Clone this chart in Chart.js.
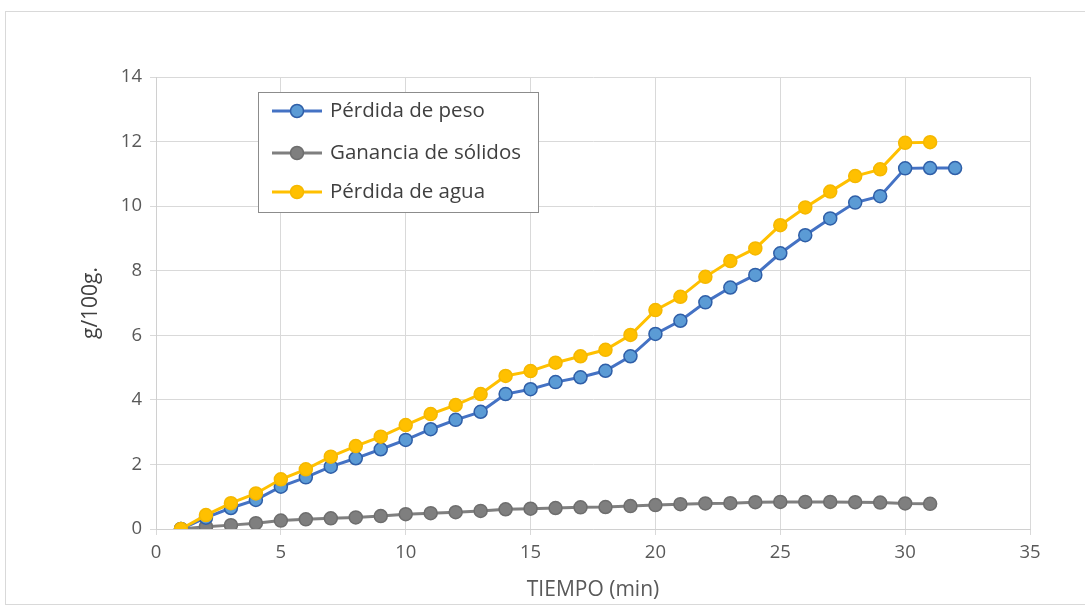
<!DOCTYPE html>
<html>
<head>
<meta charset="utf-8">
<script src="https://cdn.jsdelivr.net/npm/chart.js@4"></script>
<style>
  html, body { margin: 0; padding: 0; background: #fff; }
  #wrap { position: relative; width: 1085px; height: 609px; overflow: hidden; }
  #frame { position: absolute; left: 5px; top: 11px; width: 1090px; height: 594px; border: 1px solid #d9d9d9; box-sizing: border-box; }
  #chartCanvas { position: absolute; left: 0; top: 0; }
</style>
</head>
<body>
<div id="wrap">
  <div id="frame"></div>
  <canvas id="chartCanvas" width="1085" height="609"></canvas>
</div>
<script>
// 數據
var tiempo = [1, 2, 3, 4, 5, 6, 7, 8, 9, 10, 11, 12, 13, 14, 15, 16, 17, 18, 19, 20, 21, 22, 23, 24, 25, 26, 27, 28, 29, 30, 31, 32];
var perdidaPeso = [0, 0.35, 0.65, 0.9, 1.31, 1.6, 1.93, 2.19, 2.47, 2.76, 3.09, 3.38, 3.63, 4.18, 4.33, 4.55, 4.7, 4.9, 5.35, 6.04, 6.45, 7.02, 7.48, 7.87, 8.54, 9.1, 9.62, 10.11, 10.31, 11.17, 11.18, 11.18];
var gananciaSolidos = [0, 0.07, 0.12, 0.18, 0.26, 0.3, 0.33, 0.36, 0.4, 0.46, 0.49, 0.52, 0.56, 0.61, 0.63, 0.65, 0.67, 0.68, 0.71, 0.74, 0.77, 0.79, 0.8, 0.83, 0.84, 0.84, 0.84, 0.83, 0.82, 0.79, 0.78];
var perdidaAgua = [0, 0.43, 0.8, 1.1, 1.54, 1.85, 2.24, 2.57, 2.86, 3.22, 3.56, 3.84, 4.18, 4.74, 4.89, 5.15, 5.35, 5.55, 6.01, 6.78, 7.19, 7.81, 8.3, 8.69, 9.41, 9.96, 10.45, 10.93, 11.14, 11.96, 11.98];

var names = ['Pérdida de peso', 'Ganancia de sólidos', 'Pérdida de agua'];
var lineColors = ['#4472C4', '#7F7F7F', '#FFC000'];
var pointFills = ['#5B9BD5', '#7F7F7F', '#FFC000'];
var pointBorders = ['#2F5FA8', '#6E6E6E', '#F5B800'];

var FONT = '"Open Sans", "Liberation Sans", sans-serif';

function toXY(ys) {
  return ys.map(function(v, i) { return { x: tiempo[i], y: v }; });
}

function mkSet(idx, ys, order) {
  return {
    label: names[idx],
    data: toXY(ys),
    borderColor: lineColors[idx],
    backgroundColor: pointFills[idx],
    pointBackgroundColor: pointFills[idx],
    pointBorderColor: pointBorders[idx],
    pointBorderWidth: 1.5,
    pointRadius: 6.5,
    borderWidth: 3,
    tension: 0,
    order: order
  };
}

// 圖例：畫在繪圖區內的框
var boxLegend = {
  id: 'boxLegend',
  afterDatasetsDraw: function(chart) {
    var ctx = chart.ctx;
    var x0 = 258.5, y0 = 92.5, w = 280, h = 120;
    ctx.save();
    ctx.fillStyle = '#fff';
    ctx.fillRect(x0, y0, w, h);
    ctx.strokeStyle = '#8c8c8c';
    ctx.lineWidth = 1;
    ctx.strokeRect(x0, y0, w, h);
    var rowsY = [111, 153, 192];
    for (var i = 0; i < 3; i++) {
      var y = rowsY[i];
      ctx.strokeStyle = lineColors[i];
      ctx.lineWidth = 3;
      ctx.beginPath();
      ctx.moveTo(272, y);
      ctx.lineTo(322, y);
      ctx.stroke();
      ctx.beginPath();
      ctx.arc(297, y, 6.5, 0, Math.PI * 2);
      ctx.fillStyle = pointFills[i];
      ctx.fill();
      ctx.lineWidth = 1.5;
      ctx.strokeStyle = pointBorders[i];
      ctx.stroke();
      ctx.fillStyle = '#404040';
      ctx.font = '20.5px ' + FONT;
      ctx.textBaseline = 'middle';
      ctx.textAlign = 'left';
      ctx.fillText(names[i], 330, y);
    }
    ctx.restore();
  }
};

var ctx = document.getElementById('chartCanvas').getContext('2d');
new Chart(ctx, {
  type: 'line',
  data: {
    datasets: [
      mkSet(0, perdidaPeso, 1),
      mkSet(1, gananciaSolidos, 2),
      mkSet(2, perdidaAgua, 0)
    ]
  },
  options: {
    responsive: false,
    animation: false,
    layout: { padding: { left: 0, right: 55, top: 77, bottom: 0 } },
    plugins: {
      legend: { display: false },
      tooltip: { enabled: false }
    },
    scales: {
      x: {
        type: 'linear',
        min: 0,
        max: 35,
        afterFit: function(s) { s.height = 80; },
        ticks: { stepSize: 5, color: '#595959', padding: 7, font: { family: FONT, size: 18.5 } },
        grid: { color: '#d9d9d9', tickLength: 6, lineWidth: 1 },
        border: { color: '#d0d0d0' },
        title: { display: true, text: 'TIEMPO (min)', color: '#595959', font: { family: FONT, size: 21 }, padding: { top: 0, bottom: 6 } }
      },
      y: {
        min: 0,
        max: 14,
        afterFit: function(s) { s.width = 156; },
        ticks: { stepSize: 2, color: '#595959', padding: 8, font: { family: FONT, size: 18.5 } },
        grid: { color: '#d9d9d9', tickLength: 6, lineWidth: 1 },
        border: { color: '#d0d0d0' },
        title: { display: true, text: 'g/100g.', color: '#404040', font: { family: FONT, size: 21 }, padding: { top: 78, bottom: 0 } }
      }
    }
  },
  plugins: [boxLegend]
});
</script>
</body>
</html>
